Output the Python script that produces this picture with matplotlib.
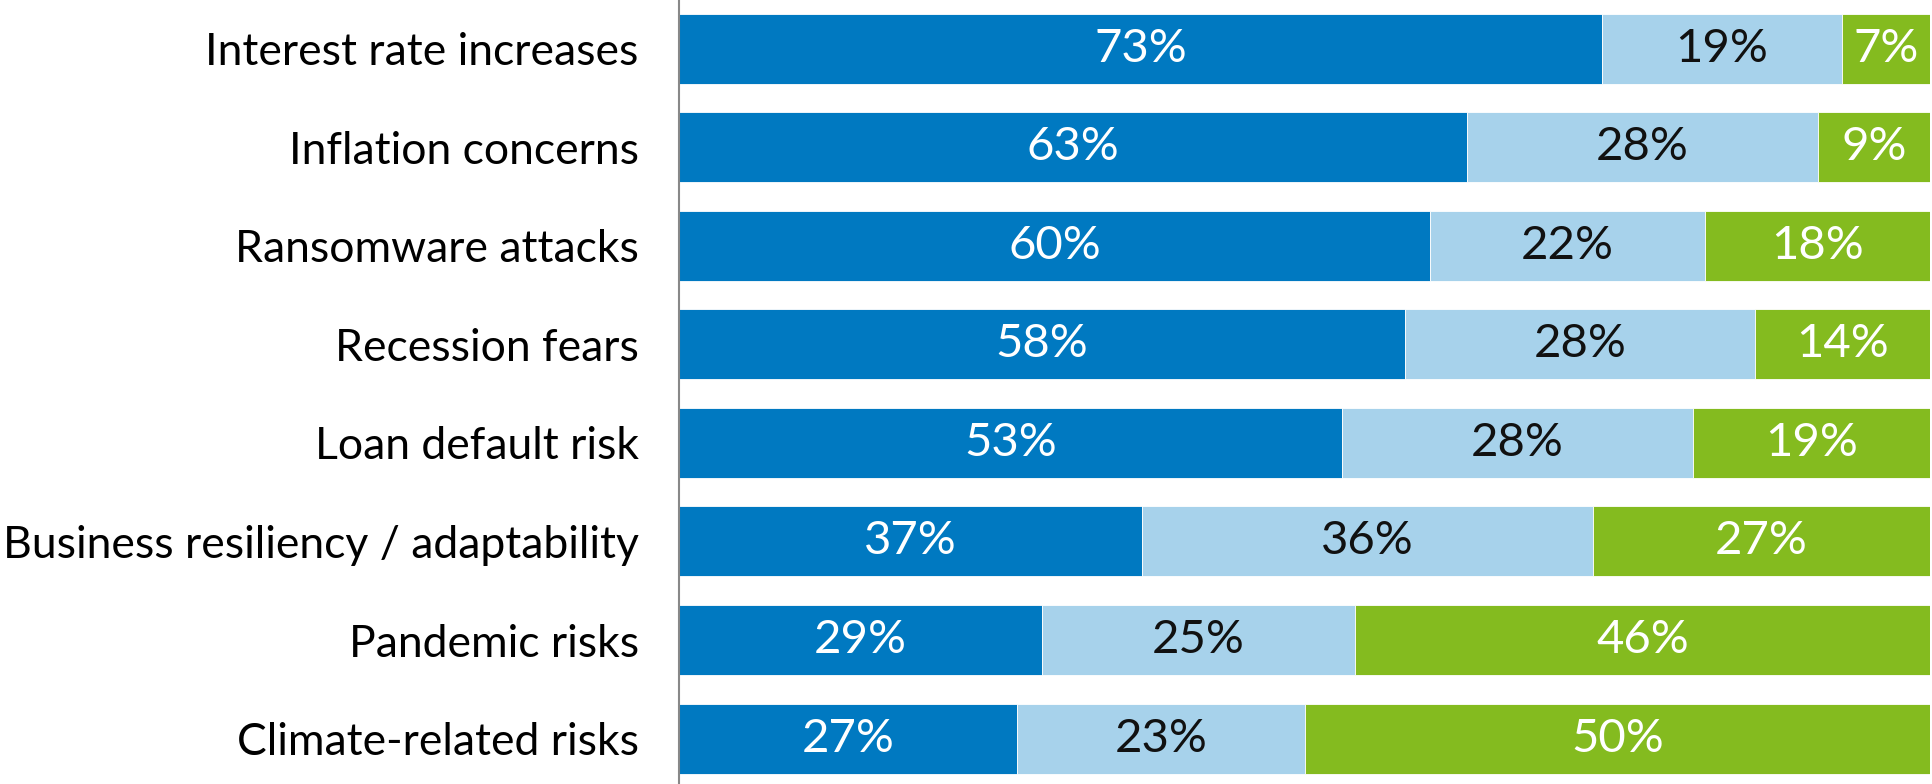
import matplotlib
matplotlib.use("Agg")
import matplotlib.pyplot as plt
import numpy as np

categories = ["Interest rate increases", "Inflation concerns", "Ransomware attacks",
              "Recession fears", "Loan default risk", "Business resiliency / adaptability",
              "Pandemic risks", "Climate-related risks"]
series_a = [73, 63, 60, 58, 53, 37, 29, 27]
series_b = [19, 28, 22, 28, 28, 36, 25, 23]
series_c = [7, 9, 18, 14, 19, 27, 46, 50]

colors = ["#0079C1", "#A7D2EB", "#84BB1F"]
text_colors = ["white", "#111111", "white"]

plt.rcParams['font.family'] = ['Lato', 'DejaVu Sans']

fig = plt.figure(figsize=(19.33, 7.84), dpi=100)
ax = fig.add_axes([0.3513, 0.0, 0.6474, 1.0])

data = np.array([series_a, series_b, series_c], dtype=float)
totals = data.sum(axis=0)
shares = data / totals * 100
y = np.arange(len(categories))
left = np.zeros(len(categories))
for i in range(3):
    ax.barh(y, shares[i], left=left, height=0.71, color=colors[i],
            edgecolor="white", linewidth=0.6)
    for j in range(len(categories)):
        ax.text(left[j] + shares[i][j] / 2, y[j], f"{int(data[i][j])}%",
                ha="center", va="center", fontsize=34, fontweight="normal",
                color=text_colors[i])
    left += shares[i]

ax.set_xlim(0, 100)
ax.set_ylim(7.46, -0.492)
ax.set_yticks(y)
ax.set_yticklabels(categories, fontsize=32)
ax.tick_params(axis="y", length=0, pad=29)
ax.set_xticks([])
for s in ["top", "right", "bottom"]:
    ax.spines[s].set_visible(False)
ax.spines["left"].set_color("#888888")
ax.spines["left"].set_linewidth(1.5)

fig.savefig("out.png", dpi=100)
